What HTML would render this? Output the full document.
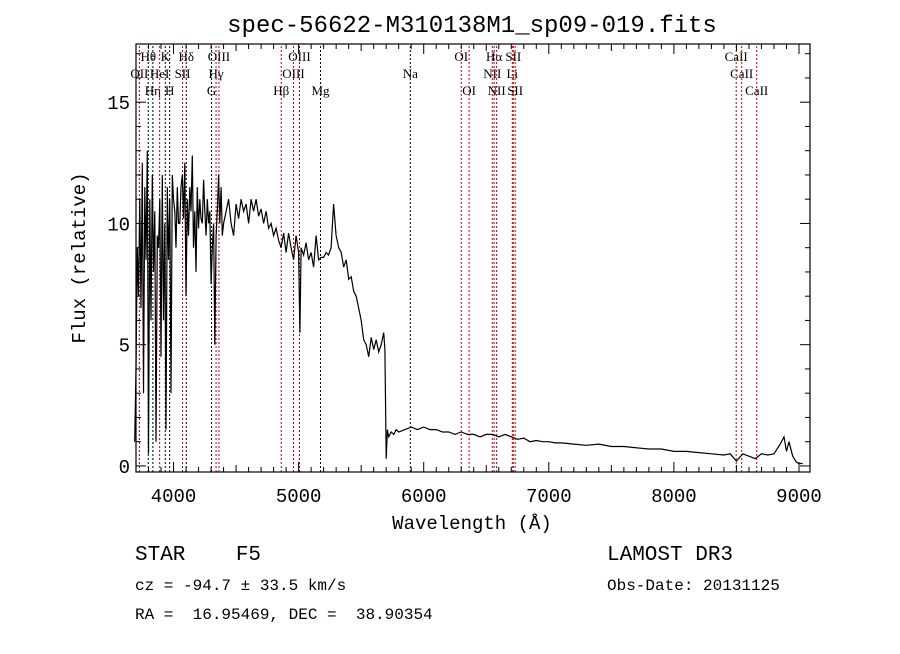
<!DOCTYPE html>
<html><head><meta charset="utf-8">
<style>
body{margin:0;background:#fff;}
svg text{font-family:"Liberation Serif",serif;fill:#000;}
</style></head>
<body>
<svg id="chart" width="900" height="649" viewBox="0 0 900 649" xmlns="http://www.w3.org/2000/svg" xml:space="preserve">
<rect width="900" height="649" fill="#fff"/>
<text x="472" y="32" text-anchor="middle" font-size="24" style="font-family:'Liberation Mono',monospace">spec-56622-M310138M1_sp09-019.fits</text>
<g id="lines"></g>
<g id="axes"></g>
<path id="spec" fill="none" stroke="#000" stroke-width="1.2"/>
<text x="472" y="529" text-anchor="middle" font-size="19" style="font-family:'Liberation Mono',monospace">Wavelength (Å)</text>
<text transform="translate(85,258) rotate(-90)" text-anchor="middle" font-size="19" style="font-family:'Liberation Mono',monospace">Flux (relative)</text>
<text x="135" y="560" font-size="21" style="font-family:'Liberation Mono',monospace;white-space:pre">STAR    F5</text>
<text x="135" y="590" font-size="16" style="font-family:'Liberation Mono',monospace;white-space:pre">cz = -94.7 ± 33.5 km/s</text>
<text x="135" y="619" font-size="16" style="font-family:'Liberation Mono',monospace;white-space:pre">RA =  16.95469, DEC =  38.90354</text>
<text x="607" y="560" font-size="21" style="font-family:'Liberation Mono',monospace">LAMOST DR3</text>
<text x="607" y="590" font-size="16" style="font-family:'Liberation Mono',monospace">Obs-Date: 20131125</text>
</svg>
<script>
const xTicks=[4000,5000,6000,7000,8000,9000];
const yTicks=[0,5,10,15];
const lineWaves=[3727,3798,3835,3889,3934,3969,4072,4102,4304,4340,4363,4861,4959,5007,5175,5893,6300,6363,6548,6563,6583,6708,6716,6731,8498,8542,8662];
const lineNames=["OII","Hθ","Hη","HeI","K","H","SII","Hδ","G","Hγ","OIII","Hβ","OIII","OIII","Mg","Na","OI","OI","NII","Hα","NII","Li","SII","SII","CaII","CaII","CaII"];
const lineRows=[1,0,2,1,0,2,1,0,2,1,0,2,1,0,2,1,0,2,1,0,2,1,0,2,0,1,2];
const lineEmission=[1,0,0,1,0,0,1,0,0,1,1,1,1,1,0,0,1,1,1,1,1,1,1,1,1,1,1];
const waves=[3690,3700,3710,3720,3730,3740,3750,3760,3770,3780,
3790,3800,3810,3820,3830,3840,3850,3860,3870,3880,
3890,3900,3910,3920,3930,3940,3950,3960,3970,3980,
3990,4000,4010,4020,4030,4040,4050,4060,4070,4080,
4090,4100,4110,4120,4130,4140,4150,4160,4170,4180,
4190,4200,4210,4220,4230,4240,4250,4260,4270,4280,
4290,4300,4310,4320,4330,4340,4350,4360,4370,4380,
4390,4400,4420,4440,4460,4480,4500,4520,4540,4560,
4580,4600,4620,4640,4660,4680,4700,4720,4740,4760,
4780,4800,4820,4840,4860,4880,4900,4920,4940,4960,
4980,5000,5010,5020,5040,5060,5080,5100,5120,5140,
5160,5180,5200,5220,5240,5260,5280,5300,5320,5340,
5360,5380,5400,5420,5440,5460,5480,5500,5520,5540,
5560,5580,5600,5620,5640,5660,5680,5690,5700,5710,
5720,5740,5760,5780,5800,5850,5900,5950,6000,6050,
6100,6150,6200,6250,6300,6350,6400,6450,6500,6550,
6600,6650,6700,6750,6800,6850,6900,6950,7000,7050,
7100,7200,7300,7400,7500,7600,7700,7800,7900,8000,
8100,8200,8300,8400,8450,8500,8550,8600,8650,8700,
8750,8800,8850,8880,8900,8920,8950,8980,9000,9030];
const flux=[1.0,4.0,9.0,7.0,11.0,6.5,12.5,3.0,11.5,8.5,
13.0,0.5,11.0,6.0,12.0,8.0,10.5,1.0,9.5,9.0,
11.0,4.5,12.0,6.0,10.0,1.5,11.5,8.5,11.0,3.0,
12.0,11.0,10.5,9.0,11.5,10.0,10.0,11.5,12.0,10.2,
12.5,7.0,11.0,9.5,11.5,10.5,12.8,9.0,10.5,8.0,
11.5,9.8,11.0,10.2,10.0,11.8,10.5,9.5,11.0,10.0,
10.5,7.5,9.0,10.0,5.0,9.5,10.5,12.0,10.0,11.5,
9.5,10.0,10.5,11.0,10.0,9.5,10.8,10.2,11.0,10.5,
10.8,10.0,11.0,10.5,11.0,10.3,10.6,10.0,10.5,9.8,
10.0,9.5,9.8,9.3,9.0,9.6,8.8,9.6,9.0,8.5,
9.5,8.8,5.5,9.0,8.7,9.2,8.5,8.8,8.2,9.5,
8.5,8.6,8.6,8.8,8.7,9.0,10.8,9.5,9.0,8.8,
8.2,8.5,7.7,7.8,7.2,7.0,6.5,6.0,5.2,5.0,
4.5,5.3,4.8,5.2,4.7,5.0,5.5,4.8,0.3,1.5,
1.2,1.4,1.3,1.5,1.4,1.5,1.6,1.5,1.6,1.5,
1.5,1.4,1.4,1.3,1.4,1.3,1.3,1.2,1.3,1.3,
1.2,1.3,1.2,1.1,1.15,1.0,1.05,1.0,1.0,0.95,
0.95,0.9,0.85,0.9,0.8,0.8,0.75,0.7,0.7,0.6,
0.6,0.55,0.5,0.45,0.5,0.2,0.5,0.4,0.3,0.5,
0.45,0.5,0.9,1.2,0.6,1.0,0.4,0.15,0.1,0.1];

const X0=136,X1=810,Y0=44,Y1=472;
const xmin=3700,xmax=9088,ymin=-0.25,ymax=17.4;
const sx=w=>X0+(w-xmin)/(xmax-xmin)*(X1-X0);
const sy=f=>Y1-(f-ymin)/(ymax-ymin)*(Y1-Y0);
const NS="http://www.w3.org/2000/svg";
function mk(tag,attrs,parent){const e=document.createElementNS(NS,tag);for(const k in attrs)e.setAttribute(k,attrs[k]);parent.appendChild(e);return e;}
const axes=document.getElementById('axes');
const frame=mk('rect',{x:X0,y:Y0,width:X1-X0,height:Y1-Y0,fill:'none',stroke:'#000','stroke-width':1.2},axes);


for(let w=3700;w<=9000;w+=100){
  const major=w%1000===0, mid=w%500===0;
  const len=major?10:(mid?7:5);
  const x=sx(w);
  mk('line',{x1:x,x2:x,y1:Y1,y2:Y1-len,stroke:'#000'},axes);
  mk('line',{x1:x,x2:x,y1:Y0,y2:Y0+len,stroke:'#000'},axes);
}
xTicks.forEach(t=>{
  const tx=mk('text',{x:sx(t),y:Y1+30,'text-anchor':'middle','font-size':19,style:"font-family:'Liberation Mono',monospace"},axes);
  
  
  tx.textContent=t;
});
for(let v=0;v<=17;v++){
  const len=v%5===0?10:5,y=sy(v);
  mk('line',{x1:X0,x2:X0+len,y1:y,y2:y,stroke:'#000'},axes);
  mk('line',{x1:X1,x2:X1-len,y1:y,y2:y,stroke:'#000'},axes);
}
yTicks.forEach(t=>{
  const tx=mk('text',{x:X0-6,y:sy(t)+7,'text-anchor':'end','font-size':19,style:"font-family:'Liberation Mono',monospace"},axes);
  
  
  tx.textContent=t;
});
const lg=document.getElementById('lines');
lineWaves.forEach((w,i)=>{
  const x=sx(w);
  const ln=mk('line',{x1:x,x2:x,y1:Y0+2,y2:Y1,stroke:lineEmission[i]?'#c00000':'#000','stroke-width':1,'stroke-dasharray':'2,2'},lg);
  
  
  const tx=mk('text',{x:x,y:61+lineRows[i]*17,'text-anchor':'middle','font-size':13},lg);
  
  
  tx.textContent=lineNames[i];
});
let d='';
waves.forEach((w,i)=>{d+=(i?'L':'M')+sx(w).toFixed(1)+','+sy(flux[i]).toFixed(1);});
document.getElementById('spec').setAttribute('d',d);
</script>
</body></html>
